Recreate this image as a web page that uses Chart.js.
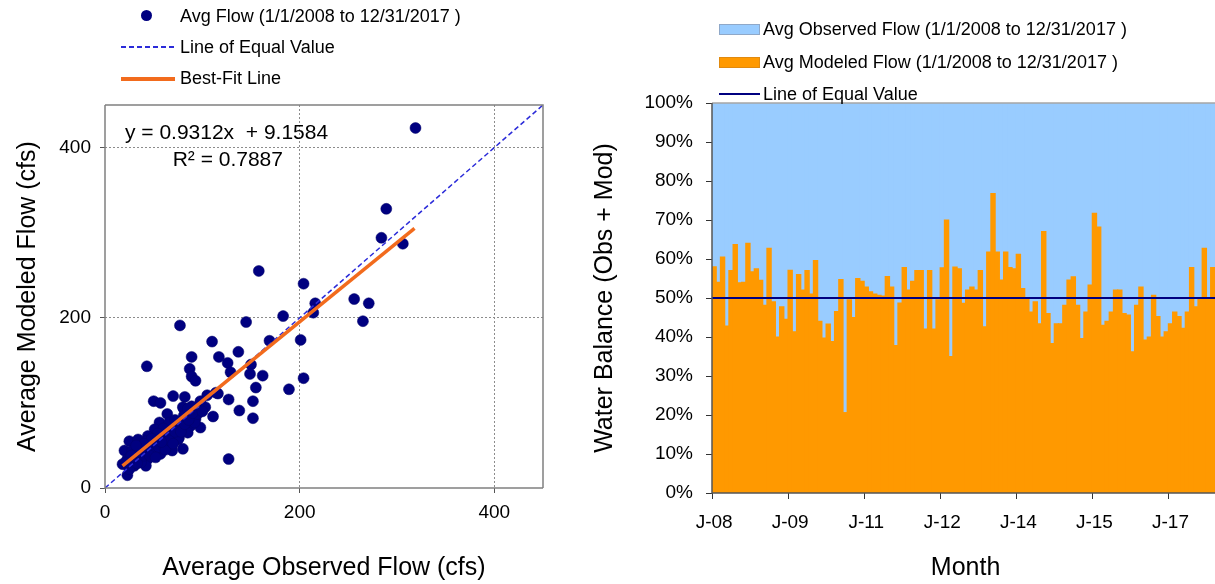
<!DOCTYPE html>
<html>
<head>
<meta charset="utf-8">
<script src="https://cdn.jsdelivr.net/npm/chart.js@4.4.0/dist/chart.umd.min.js"></script>
<style>
  html, body { margin: 0; padding: 0; width: 1215px; height: 584px; overflow: hidden; background: #fff; }
  body { position: relative; font-family: "Liberation Sans", Arial, sans-serif; color: #000; }
  #leftBox { position: absolute; left: 0; top: 0; width: 560px; height: 584px; }
  #rightBox { position: absolute; left: 580px; top: 0; width: 649px; height: 584px; }
  .lg { position: absolute; font-size: 18px; line-height: 22px; white-space: nowrap; }
  .sw { position: absolute; }
</style>
</head>
<body>
<div id="leftBox"><canvas id="scatterChart"></canvas></div>
<div id="rightBox"><canvas id="balanceChart"></canvas></div>

<!-- legends -->
<div class="sw" style="left:141px;top:10px;width:11px;height:11px;border-radius:50%;background:#000080"></div>
<div class="lg" style="left:180px;top:5px">Avg Flow (1/1/2008 to 12/31/2017 )</div>
<div class="sw" style="left:121px;top:46px;width:54px;height:2px;background:repeating-linear-gradient(to right,#2b2bd9 0 5px,transparent 5px 8px)"></div>
<div class="lg" style="left:180px;top:36px">Line of Equal Value</div>
<div class="sw" style="left:121px;top:77px;width:54px;height:4px;background:#f26b1d"></div>
<div class="lg" style="left:180px;top:67px">Best-Fit Line</div>

<div class="sw" style="left:719px;top:24px;width:39px;height:9px;background:#99ccff;border:1px solid #8fa8c8"></div>
<div class="lg" style="left:763px;top:18px">Avg Observed Flow (1/1/2008 to 12/31/2017 )</div>
<div class="sw" style="left:719px;top:57px;width:39px;height:9px;background:#ff9900;border:1px solid #e08a10"></div>
<div class="lg" style="left:763px;top:51px">Avg Modeled Flow (1/1/2008 to 12/31/2017 )</div>
<div class="sw" style="left:719px;top:93px;width:41px;height:2px;background:#000080"></div>
<div class="lg" style="left:763px;top:83px">Line of Equal Value</div>

<script>
// ---- scatter: average observed vs modeled flow (cfs), one point per month ----
const observedFlow = [
  319, 289, 284, 306, 158, 204, 216, 214, 256, 271, 265, 183, 145, 77, 201, 169,
  110, 137, 89, 117, 126, 43, 87, 150, 129, 149, 162, 89, 93, 204, 155, 189,
  116, 127, 152, 138, 111, 152, 70, 50, 57, 82, 105, 127, 98, 103, 81,
  89, 64, 56, 80, 81, 93, 98, 88, 75, 66, 51, 44, 57, 68, 76, 85,
  25, 34, 42, 51, 61, 69, 80, 20, 28, 37, 44, 57, 34, 44, 23, 18,
  30, 42, 23, 25, 37, 52, 64, 75, 92, 95, 85, 114,
  30, 35, 40, 47, 48, 55, 60, 62, 66, 70, 72, 78, 82, 86, 90, 60,
  54, 48, 40, 32, 27, 21, 28, 33, 46, 52, 58, 72, 100
];
const modeledFlow = [
  423, 328, 294, 287, 255, 240, 217, 206, 222, 217, 196, 202, 195, 191, 174, 173,
  172, 160, 154, 154, 147, 143, 140, 145, 136, 134, 132, 131, 126, 129, 118, 116,
  111, 104, 102, 91, 84, 82, 108, 102, 100, 107, 109, 34, 102, 95, 93,
  96, 87, 77, 95, 85, 81, 71, 73, 71, 77, 69, 61, 61, 63, 59, 65,
  55, 57, 55, 52, 52, 44, 46, 44, 44, 46, 42, 40, 36, 34, 34, 28,
  26, 26, 15, 22, 30, 44, 50, 57, 77, 87, 93, 112,
  40, 48, 38, 50, 45, 48, 58, 45, 56, 52, 66, 66, 75, 80, 88, 70,
  64, 58, 52, 50, 38, 30, 31, 29, 38, 36, 54, 80, 90
];
const equalX = [0, 450];
const equalY = [0, 450];
const fitX = [18, 318];
const fitY = [26, 305];
const flowTicks = [0, 200, 400];
const fitText = ['y = 0.9312x  + 9.1584', 'R\u00b2 = 0.7887'];

// ---- water balance: modeled share of (obs + mod), percent, Jan 2008 - Dec 2017 ----
const modeledShare = [
  58, 54, 60.5, 42.8, 57, 63.7, 53.9, 54, 64, 56.7, 57.5, 54.5,
  48.1, 62.7, 49, 40, 47.7, 44.5, 57.1, 41.3, 56, 52, 57, 51,
  59.6, 44, 39.7, 43.3, 38.8, 46.5, 54.7, 20.6, 49.5, 45, 55, 54.3,
  52.8, 51.6, 51, 50.7, 50.5, 55.5, 52.8, 37.8, 48.7, 57.8, 52, 54.3,
  57, 57, 42, 57, 42, 49.5, 57.7, 70, 35, 57.9, 57.5, 48.6,
  52, 52.8, 52, 57, 42.6, 61.8, 76.8, 61.8, 54.6, 61.8, 57.8, 57.5,
  61.2, 52.4, 49.9, 46.4, 49, 43.4, 67, 46, 38.3, 43.4, 43.4, 48.1,
  54.6, 55.4, 48.1, 39.6, 46.4, 53.3, 71.7, 68.2, 43, 44, 46.4, 52,
  52, 46, 45.6, 36.2, 48.1, 52.8, 39.2, 40, 50.7, 45.2, 40, 41.3,
  43.4, 46.4, 45.2, 42.2, 46.4, 57.8, 47.7, 49.9, 62.7, 49.9, 57.8, 49
];
const monthInitials = ['J', 'F', 'M', 'A', 'M', 'J', 'J', 'A', 'S', 'O', 'N', 'D'];
const years = ['08', '09', '10', '11', '12', '13', '14', '15', '16', '17'];
const equalShare = [50, 50];
const labelEvery = 18;

const months = [];
years.forEach(yy => monthInitials.forEach(m => months.push(m + '-' + yy)));
// observed share fills from the modeled share up to 100%
const observedRange = modeledShare.map(v => [v, 100]);

Chart.defaults.font.family = '"Liberation Sans", Arial, sans-serif';
Chart.defaults.color = '#000';

// box round the plot area
const frame = {
  id: 'frame',
  afterDraw(chart, args, opts) {
    const { ctx, chartArea: a } = chart;
    ctx.save();
    ctx.lineWidth = 1.5;
    ctx.strokeStyle = opts.top;
    ctx.beginPath();
    ctx.moveTo(a.left, a.top); ctx.lineTo(a.right, a.top);
    if (opts.right) { ctx.lineTo(a.right, a.bottom); }
    ctx.stroke();
    ctx.strokeStyle = opts.side;
    ctx.beginPath();
    ctx.moveTo(a.left, a.top); ctx.lineTo(a.left, a.bottom); ctx.lineTo(a.right, a.bottom);
    ctx.stroke();
    ctx.restore();
  }
};

const fitLabel = {
  id: 'fitLabel',
  afterDatasetsDraw(chart) {
    const { ctx, scales: { x, y } } = chart;
    ctx.save();
    ctx.font = '21px "Liberation Sans", Arial, sans-serif';
    ctx.fillStyle = '#000';
    ctx.textBaseline = 'middle';
    ctx.fillText(fitText[0], x.getPixelForValue(20.5), y.getPixelForValue(417));
    ctx.fillText(fitText[1], x.getPixelForValue(69.5), y.getPixelForValue(385));
    ctx.restore();
  }
};

const gridColor = c => (c.tick && c.tick.value === 0) ? 'rgba(0,0,0,0)' : '#8c8c8c';

new Chart(document.getElementById('scatterChart'), {
  type: 'scatter',
  data: {
    datasets: [
      {
        label: 'Best-Fit Line',
        data: fitX.map((x, i) => ({ x, y: fitY[i] })),
        showLine: true,
        borderColor: '#f26b1d',
        borderWidth: 3.5,
        pointRadius: 0,
        order: 0
      },
      {
        label: 'Line of Equal Value',
        data: equalX.map((x, i) => ({ x, y: equalY[i] })),
        showLine: true,
        borderColor: '#2b2bd9',
        borderWidth: 1.5,
        borderDash: [5, 3],
        pointRadius: 0,
        order: 1
      },
      {
        label: 'Avg Flow (1/1/2008 to 12/31/2017 )',
        data: observedFlow.map((x, i) => ({ x, y: modeledFlow[i] })),
        backgroundColor: '#000080',
        borderColor: '#00006a',
        borderWidth: 0.5,
        pointRadius: 5.5,
        order: 2
      }
    ]
  },
  options: {
    responsive: true,
    maintainAspectRatio: false,
    animation: false,
    layout: { padding: { left: 0, top: 105, right: 17, bottom: 0 } },
    plugins: {
      legend: { display: false },
      tooltip: { enabled: false },
      frame: { top: '#808080', side: '#808080', right: true }
    },
    scales: {
      x: {
        type: 'linear', min: 0, max: 450,
        afterFit: s => { s.height = 96; },
        afterBuildTicks: s => { s.ticks = flowTicks.map(v => ({ value: v })); },
        ticks: { font: { size: 19 }, padding: 8, maxRotation: 0 },
        grid: { color: gridColor, tickLength: 5, tickColor: '#555', tickBorderDash: [] },
        border: { display: false, dash: [2, 2] },
        title: { display: true, text: 'Average Observed Flow (cfs)', font: { size: 25 }, padding: { top: 0, bottom: 1 } }
      },
      y: {
        type: 'linear', min: 0, max: 450,
        afterFit: s => { s.width = 105; },
        afterBuildTicks: s => { s.ticks = flowTicks.map(v => ({ value: v })); },
        ticks: { font: { size: 19 }, padding: 9 },
        grid: { color: gridColor, tickLength: 5, tickColor: '#555', tickBorderDash: [] },
        border: { display: false, dash: [2, 2] },
        title: { display: true, text: 'Average Modeled Flow (cfs)', font: { size: 25 }, padding: { top: 13 } }
      }
    }
  },
  plugins: [frame, fitLabel]
});

new Chart(document.getElementById('balanceChart'), {
  type: 'bar',
  data: {
    labels: months,
    datasets: [
      {
        type: 'line',
        label: 'Line of Equal Value',
        xAxisID: 'x2',
        data: equalShare.map((v, i) => ({ x: i, y: v })),
        borderColor: '#000080',
        borderWidth: 2,
        pointRadius: 0,
        order: 0
      },
      {
        label: 'Avg Modeled Flow (1/1/2008 to 12/31/2017 )',
        data: modeledShare,
        backgroundColor: '#ff9900',
        borderWidth: 0,
        grouped: false,
        categoryPercentage: 1,
        barPercentage: 1,
        inflateAmount: 0.6,
        order: 1
      },
      {
        label: 'Avg Observed Flow (1/1/2008 to 12/31/2017 )',
        data: observedRange,
        backgroundColor: '#99ccff',
        borderWidth: 0,
        grouped: false,
        categoryPercentage: 1,
        barPercentage: 1,
        inflateAmount: 0.6,
        order: 2
      }
    ]
  },
  options: {
    responsive: true,
    maintainAspectRatio: false,
    animation: false,
    layout: { padding: { left: 0, top: 103, right: 1, bottom: 0 } },
    plugins: {
      legend: { display: false },
      tooltip: { enabled: false },
      frame: { top: '#a6a6a6', side: '#555', right: false }
    },
    scales: {
      x: {
        afterFit: s => { s.height = 91; },
        ticks: {
          autoSkip: false, maxRotation: 0, font: { size: 19 }, padding: 12,
          callback: (v, i) => (i % labelEvery === 0 ? months[i] : '')
        },
        grid: {
          drawOnChartArea: false, tickLength: 6,
          tickColor: c => (c.index % labelEvery === 0 ? '#333' : 'rgba(0,0,0,0)')
        },
        border: { display: false },
        title: { display: true, text: 'Month', font: { size: 25 }, padding: { top: 0, bottom: 1 } }
      },
      x2: { type: 'linear', min: 0, max: 1, offset: false, display: false },
      y: {
        min: 0, max: 100,
        afterFit: s => { s.width = 132; },
        ticks: { stepSize: 10, font: { size: 19 }, padding: 13, callback: v => v + '%' },
        grid: { drawOnChartArea: false, tickLength: 6, tickColor: '#333' },
        border: { display: false },
        title: { display: true, text: 'Water Balance (Obs + Mod)', font: { size: 25 }, padding: { top: 10 } }
      }
    }
  },
  plugins: [frame]
});
</script>
</body>
</html>
